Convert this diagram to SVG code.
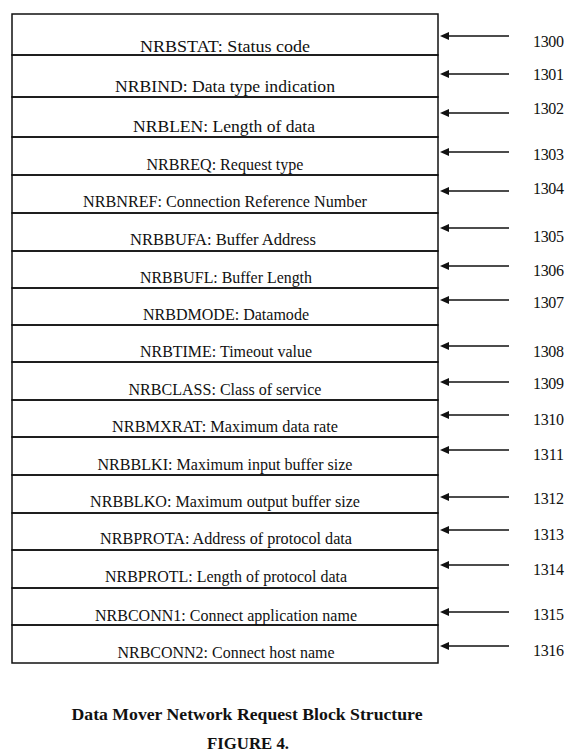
<svg xmlns="http://www.w3.org/2000/svg" width="576" height="754" viewBox="0 0 576 754">
<style>
.bg{fill:#fff}
.row{fill:none;stroke:#111;stroke-width:1.5}
.lbl{font-family:"Liberation Serif","Times New Roman",serif;font-size:16.3px;fill:#111;text-anchor:middle}
.big{font-size:17.5px}
.num{font-family:"Liberation Serif","Times New Roman",serif;font-size:16px;fill:#111}
.ttl{font-family:"Liberation Serif","Times New Roman",serif;font-size:17.5px;font-weight:bold;fill:#111;text-anchor:middle}
.arr{stroke:#111;stroke-width:1.5;fill:none;marker-end:url(#ah)}
</style>
<defs>
<marker id="ah" viewBox="0 0 9 8" refX="5" refY="4" markerWidth="9" markerHeight="8" markerUnits="userSpaceOnUse" orient="auto">
<path d="M0,0 L9,4 L0,8 Z" fill="#111"/>
</marker>
</defs>
<rect class="bg" x="0" y="0" width="576" height="754"/>
<g id="f1300"><rect class="row" x="12" y="14" width="426" height="41"/><text class="lbl big" x="225" y="52" textLength="170" lengthAdjust="spacingAndGlyphs">NRBSTAT: Status code</text></g>
<g id="f1301"><rect class="row" x="12" y="55" width="426" height="42"/><text class="lbl big" x="225" y="92" textLength="220" lengthAdjust="spacingAndGlyphs">NRBIND: Data type indication</text></g>
<g id="f1302"><rect class="row" x="12" y="97" width="426" height="40"/><text class="lbl big" x="224" y="132" textLength="182" lengthAdjust="spacingAndGlyphs">NRBLEN: Length of data</text></g>
<g id="f1303"><rect class="row" x="12" y="137" width="426" height="38"/><text class="lbl" x="225" y="170" textLength="157" lengthAdjust="spacingAndGlyphs">NRBREQ: Request type</text></g>
<g id="f1304"><rect class="row" x="12" y="175" width="426" height="38"/><text class="lbl" x="225" y="207" textLength="284" lengthAdjust="spacingAndGlyphs">NRBNREF: Connection Reference Number</text></g>
<g id="f1305"><rect class="row" x="12" y="213" width="426" height="38"/><text class="lbl" x="223" y="245" textLength="186" lengthAdjust="spacingAndGlyphs">NRBBUFA: Buffer Address</text></g>
<g id="f1306"><rect class="row" x="12" y="251" width="426" height="37"/><text class="lbl" x="226" y="283" textLength="172" lengthAdjust="spacingAndGlyphs">NRBBUFL: Buffer Length</text></g>
<g id="f1307"><rect class="row" x="12" y="288" width="426" height="37"/><text class="lbl" x="226" y="320" textLength="166" lengthAdjust="spacingAndGlyphs">NRBDMODE: Datamode</text></g>
<g id="f1308"><rect class="row" x="12" y="325" width="426" height="37"/><text class="lbl" x="226" y="357" textLength="172" lengthAdjust="spacingAndGlyphs">NRBTIME: Timeout value</text></g>
<g id="f1309"><rect class="row" x="12" y="362" width="426" height="38"/><text class="lbl" x="225" y="395" textLength="193" lengthAdjust="spacingAndGlyphs">NRBCLASS: Class of service</text></g>
<g id="f1310"><rect class="row" x="12" y="400" width="426" height="37"/><text class="lbl" x="225" y="432" textLength="226" lengthAdjust="spacingAndGlyphs">NRBMXRAT: Maximum data rate</text></g>
<g id="f1311"><rect class="row" x="12" y="437" width="426" height="38"/><text class="lbl" x="225" y="470" textLength="255" lengthAdjust="spacingAndGlyphs">NRBBLKI: Maximum input buffer size</text></g>
<g id="f1312"><rect class="row" x="12" y="475" width="426" height="38"/><text class="lbl" x="225" y="507" textLength="270" lengthAdjust="spacingAndGlyphs">NRBBLKO: Maximum output buffer size</text></g>
<g id="f1313"><rect class="row" x="12" y="513" width="426" height="37"/><text class="lbl" x="226" y="544" textLength="252" lengthAdjust="spacingAndGlyphs">NRBPROTA: Address of protocol data</text></g>
<g id="f1314"><rect class="row" x="12" y="550" width="426" height="38"/><text class="lbl" x="226" y="582" textLength="242" lengthAdjust="spacingAndGlyphs">NRBPROTL: Length of protocol data</text></g>
<g id="f1315"><rect class="row" x="12" y="588" width="426" height="37"/><text class="lbl" x="226" y="621" textLength="262" lengthAdjust="spacingAndGlyphs">NRBCONN1: Connect application name</text></g>
<g id="f1316"><rect class="row" x="12" y="625" width="426" height="38"/><text class="lbl" x="226" y="658" textLength="217" lengthAdjust="spacingAndGlyphs">NRBCONN2: Connect host name</text></g>
<g id="connectors">
<line class="arr" x1="509" y1="36" x2="444" y2="36"/>
<line class="arr" x1="509" y1="74" x2="444" y2="74"/>
<line class="arr" x1="509" y1="113" x2="444" y2="113"/>
<line class="arr" x1="509" y1="152" x2="444" y2="152"/>
<line class="arr" x1="509" y1="191" x2="444" y2="191"/>
<line class="arr" x1="509" y1="228" x2="444" y2="228"/>
<line class="arr" x1="509" y1="266" x2="444" y2="266"/>
<line class="arr" x1="509" y1="300" x2="444" y2="300"/>
<line class="arr" x1="509" y1="346" x2="444" y2="346"/>
<line class="arr" x1="509" y1="382" x2="444" y2="382"/>
<line class="arr" x1="509" y1="415" x2="444" y2="415"/>
<line class="arr" x1="509" y1="450" x2="444" y2="450"/>
<line class="arr" x1="509" y1="497" x2="444" y2="497"/>
<line class="arr" x1="509" y1="530" x2="444" y2="530"/>
<line class="arr" x1="509" y1="565" x2="444" y2="565"/>
<line class="arr" x1="509" y1="612" x2="444" y2="612"/>
<line class="arr" x1="509" y1="646" x2="444" y2="646"/>
</g>
<g id="refnums">
<text class="num" x="533" y="47" textLength="31">1300</text>
<text class="num" x="533" y="80" textLength="31">1301</text>
<text class="num" x="533" y="114" textLength="31">1302</text>
<text class="num" x="533" y="160" textLength="31">1303</text>
<text class="num" x="533" y="194" textLength="31">1304</text>
<text class="num" x="533" y="242" textLength="31">1305</text>
<text class="num" x="533" y="276" textLength="31">1306</text>
<text class="num" x="533" y="308" textLength="31">1307</text>
<text class="num" x="533" y="357" textLength="31">1308</text>
<text class="num" x="533" y="389" textLength="31">1309</text>
<text class="num" x="533" y="425" textLength="31">1310</text>
<text class="num" x="533" y="460" textLength="31">1311</text>
<text class="num" x="533" y="504" textLength="31">1312</text>
<text class="num" x="533" y="540" textLength="31">1313</text>
<text class="num" x="533" y="575" textLength="31">1314</text>
<text class="num" x="533" y="620" textLength="31">1315</text>
<text class="num" x="533" y="656" textLength="31">1316</text>
</g>
<g id="caption">
<text class="ttl" x="247" y="720" textLength="351" lengthAdjust="spacingAndGlyphs">Data Mover Network Request Block Structure</text>
<text class="ttl" x="248" y="749" textLength="82" lengthAdjust="spacingAndGlyphs">FIGURE 4.</text>
</g>
</svg>
